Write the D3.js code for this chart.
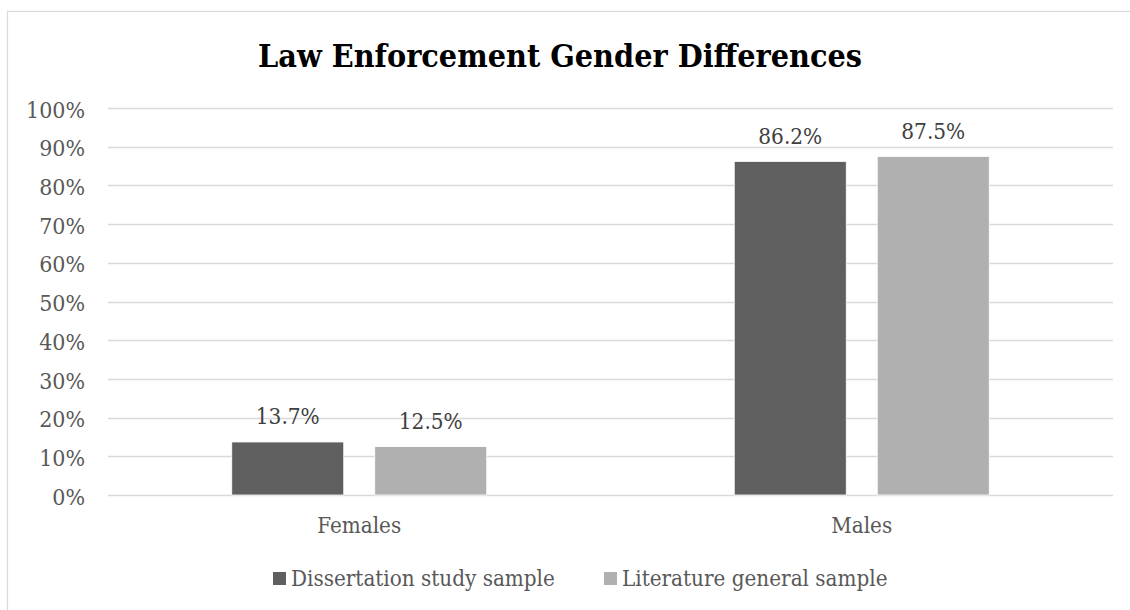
<!DOCTYPE html>
<html><head><meta charset="utf-8">
<script src="https://cdn.jsdelivr.net/npm/d3@7"></script>
<style>html,body{margin:0;padding:0;background:#fff;}svg{display:block;}</style>
</head><body>
<svg id="chart" width="1130" height="610"></svg>
<script>
const title = "Law Enforcement Gender Differences";
const categories = ["Females", "Males"];
const seriesNames = ["Dissertation study sample", "Literature general sample"];
const dissertation = [0.137, 0.862];
const literature = [0.125, 0.875];
const seriesValues = [dissertation, literature];
const yTicks = [0, 0.1, 0.2, 0.3, 0.4, 0.5, 0.6, 0.7, 0.8, 0.9, 1.0];
const colors = ["#5f5f5f", "#b0b0b0"];

const FONT = "'DejaVu Serif Condensed','DejaVu Serif',serif";
const svg = d3.select("#chart");

// outer chart border
svg.append("rect").attr("x", 7.5).attr("y", 11.5).attr("width", 1140).attr("height", 620)
  .attr("fill", "#fff").attr("stroke", "#d9d9d9").attr("stroke-width", 1.2);

const plot = {left: 108, right: 1113, top: 108, bottom: 495};
const y = d3.scaleLinear().domain([0, 1]).range([plot.bottom, plot.top]);
const x0 = d3.scaleBand().domain(categories).range([plot.left, plot.right]).padding(0);
const groupW = 255;
const x1 = d3.scaleBand().domain(seriesNames)
  .range([(x0.bandwidth() - groupW) / 2, (x0.bandwidth() + groupW) / 2])
  .paddingInner(31 / 143).paddingOuter(0);

function fitSize(text, target, weight) {
  const t = svg.append("text").attr("font-family", FONT).attr("font-size", 100)
    .attr("font-weight", weight || "normal").text(text);
  const w = t.node().getComputedTextLength();
  t.remove();
  return 100 * target / w;
}
const legendSize = fitSize("Dissertation study sample", 264);
const tickSize = fitSize("100%", 59);
const valSize = fitSize("13.7%", 64);
const catSize = legendSize;
const titleSize = fitSize(title, 604, "bold");

// gridlines
svg.append("g").selectAll("line").data(yTicks).join("line")
  .attr("x1", plot.left).attr("x2", plot.right)
  .attr("y1", d => Math.round(y(d)) + 0.5).attr("y2", d => Math.round(y(d)) + 0.5)
  .attr("stroke", "#d9d9d9").attr("stroke-width", 1.3);

// y axis labels
const yAxis = d3.axisLeft(y).tickValues(yTicks).tickFormat(d3.format(".0%")).tickSize(0).tickPadding(23);
const ya = svg.append("g").attr("transform", `translate(${plot.left},0)`).call(yAxis);
ya.select(".domain").remove();
ya.selectAll("text").attr("font-family", FONT).attr("font-size", tickSize).attr("fill", "#595959").attr("dy", "0.4em");

// x axis labels
const xAxis = d3.axisBottom(x0).tickSize(0).tickPadding(0);
const xa = svg.append("g").attr("transform", `translate(0,${plot.bottom})`).call(xAxis);
xa.select(".domain").remove();
xa.selectAll("text").attr("font-family", FONT).attr("font-size", catSize).attr("fill", "#595959")
  .attr("y", 38).attr("dy", 0);

// bars
const groups = svg.append("g").selectAll("g").data(categories).join("g")
  .attr("transform", d => `translate(${x0(d)},0)`);
groups.selectAll("rect").data((c, i) => seriesNames.map((s, j) => ({s, j, v: seriesValues[j][i]})))
  .join("rect")
  .attr("x", d => x1(d.s)).attr("width", x1.bandwidth())
  .attr("y", d => y(d.v)).attr("height", d => y(0) - y(d.v))
  .attr("fill", d => colors[d.j]).attr("stroke", "#fff").attr("stroke-width", 0.8);

// data labels
groups.selectAll("text.val").data((c, i) => seriesNames.map((s, j) => ({s, j, v: seriesValues[j][i]})))
  .join("text").attr("class", "val")
  .attr("x", d => x1(d.s) + x1.bandwidth() / 2).attr("y", d => y(d.v) - 17.5)
  .attr("text-anchor", "middle").attr("font-family", FONT).attr("font-size", valSize)
  .attr("fill", "#404040").text(d => d3.format(".1%")(d.v));

// title
svg.append("text").attr("x", 560).attr("y", 67).attr("text-anchor", "middle")
  .attr("font-family", FONT).attr("font-weight", "bold").attr("font-size", titleSize)
  .attr("fill", "#000").text(title);

// legend
const legendX = [273, 604];
const lg = svg.append("g").selectAll("g").data(seriesNames).join("g")
  .attr("transform", (d, i) => `translate(${legendX[i]},0)`);
lg.append("rect").attr("x", 0).attr("y", 572).attr("width", 13).attr("height", 13)
  .attr("fill", (d, i) => colors[i]);
lg.append("text").attr("x", 18).attr("y", 586).attr("font-family", FONT).attr("font-size", legendSize)
  .attr("fill", "#595959").text(d => d);
</script>
</body></html>
